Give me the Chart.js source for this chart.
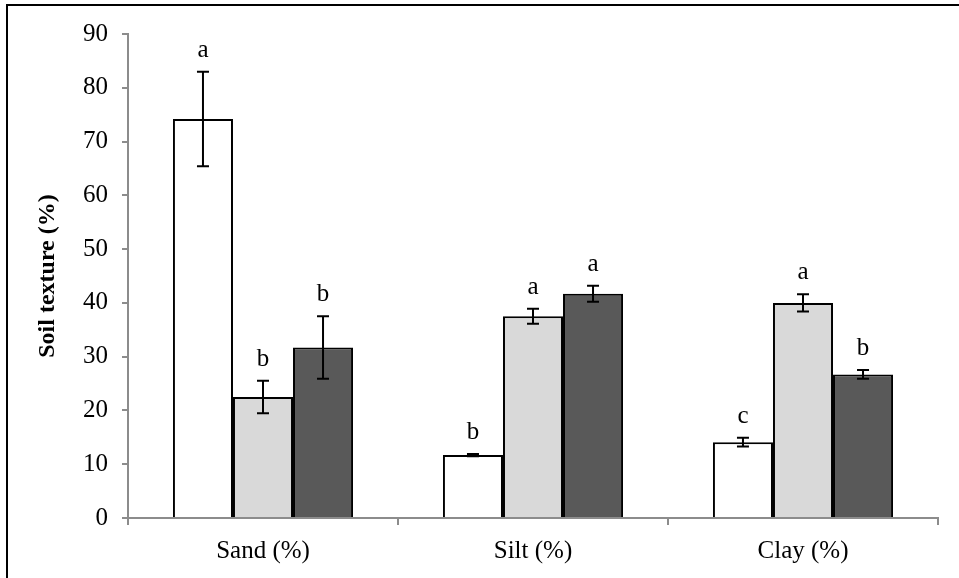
<!DOCTYPE html>
<html>
<head>
<meta charset="utf-8">
<script src="https://cdn.jsdelivr.net/npm/chart.js@4/dist/chart.umd.min.js"></script>
<style>
  html, body { margin: 0; padding: 0; background: #fff; }
  #wrap { width: 959px; height: 578px; }
</style>
</head>
<body>
<div id="wrap"><canvas id="soil"></canvas></div>
<script>
// soil texture by treatment, mean +/- error, letters = significance groups
const categories = ['Sand (%)', 'Silt (%)', 'Clay (%)'];

const whiteVals = [74.2, 11.7, 14.1];
const whiteErr = [8.8, 0.2, 0.8];
const whiteLetters = ['a', 'b', 'c'];

const lightVals = [22.5, 37.5, 40.0];
const lightErr = [3.0, 1.4, 1.6];
const lightLetters = ['b', 'a', 'a'];

const darkVals = [31.7, 41.7, 26.7];
const darkErr = [5.8, 1.5, 0.8];
const darkLetters = ['b', 'a', 'b'];

const yTicks = [0, 10, 20, 30, 40, 50, 60, 70, 80, 90];

const errs = [whiteErr, lightErr, darkErr];
const letters = [whiteLetters, lightLetters, darkLetters];

const serif = "'Liberation Serif', 'Times New Roman', serif";

// error bars + letters above them
const errorBars = {
  id: 'errorBars',
  afterDatasetsDraw(chart) {
    const ctx = chart.ctx;
    const y = chart.scales.y;
    ctx.save();
    chart.data.datasets.forEach((ds, i) => {
      const meta = chart.getDatasetMeta(i);
      meta.data.forEach((bar, j) => {
        const v = ds.data[j], e = errs[i][j];
        const top = y.getPixelForValue(v + e);
        const bot = y.getPixelForValue(v - e);
        ctx.strokeStyle = '#000';
        ctx.lineWidth = 2;
        ctx.beginPath();
        ctx.moveTo(bar.x, top); ctx.lineTo(bar.x, bot);
        ctx.moveTo(bar.x - 6, top); ctx.lineTo(bar.x + 6, top);
        ctx.moveTo(bar.x - 6, bot); ctx.lineTo(bar.x + 6, bot);
        ctx.stroke();
        ctx.fillStyle = '#000';
        ctx.font = '25px ' + serif;
        ctx.textAlign = 'center';
        ctx.textBaseline = 'alphabetic';
        ctx.fillText(letters[i][j], bar.x, top - 15);
      });
    });
    ctx.restore();
  }
};

// the frame line along top and left edge
const frame = {
  id: 'frame',
  afterDraw(chart) {
    const ctx = chart.ctx;
    ctx.save();
    ctx.strokeStyle = '#000';
    ctx.lineWidth = 2;
    ctx.beginPath();
    ctx.moveTo(6, 5); ctx.lineTo(959, 5);
    ctx.moveTo(7, 4); ctx.lineTo(7, 578);
    ctx.stroke();
    ctx.restore();
  }
};

new Chart(document.getElementById('soil'), {
  type: 'bar',
  data: {
    labels: categories,
    datasets: [
      { label: 'Treatment 1', data: whiteVals, backgroundColor: '#ffffff', borderColor: '#000', borderWidth: 2 },
      { label: 'Treatment 2', data: lightVals, backgroundColor: '#d9d9d9', borderColor: '#000', borderWidth: 2 },
      { label: 'Treatment 3', data: darkVals, backgroundColor: '#595959', borderColor: '#000', borderWidth: 2 }
    ]
  },
  options: {
    responsive: true,
    maintainAspectRatio: false,
    animation: false,
    layout: { padding: { left: 0, right: 21, top: 34, bottom: 0 } },
    datasets: { bar: { categoryPercentage: 0.667, barPercentage: 1.0 } },
    plugins: { legend: { display: false }, tooltip: { enabled: false } },
    scales: {
      x: {
        grid: { display: true, drawOnChartArea: false, drawTicks: true, tickLength: 7, color: '#8c8c8c', lineWidth: 2, offset: true },
        border: { color: '#8c8c8c', width: 2 },
        ticks: { color: '#000', font: { family: serif, size: 25 }, padding: 11 },
        afterFit(scale) { scale.height = 60; }
      },
      y: {
        min: 0,
        max: 90,
        afterBuildTicks(scale) { scale.ticks = yTicks.map(v => ({ value: v })); },
        grid: { display: true, drawOnChartArea: false, drawTicks: true, tickLength: 6, color: '#8c8c8c', lineWidth: 2 },
        border: { color: '#8c8c8c', width: 2 },
        ticks: { color: '#000', font: { family: serif, size: 25 }, padding: 14 },
        title: {
          display: true,
          text: 'Soil texture (%)',
          color: '#000',
          font: { family: serif, size: 24, weight: 'bold' },
          padding: { top: 33, bottom: 0 }
        },
        afterFit(scale) { scale.width = 128; }
      }
    }
  },
  plugins: [errorBars, frame]
});
</script>
</body>
</html>
